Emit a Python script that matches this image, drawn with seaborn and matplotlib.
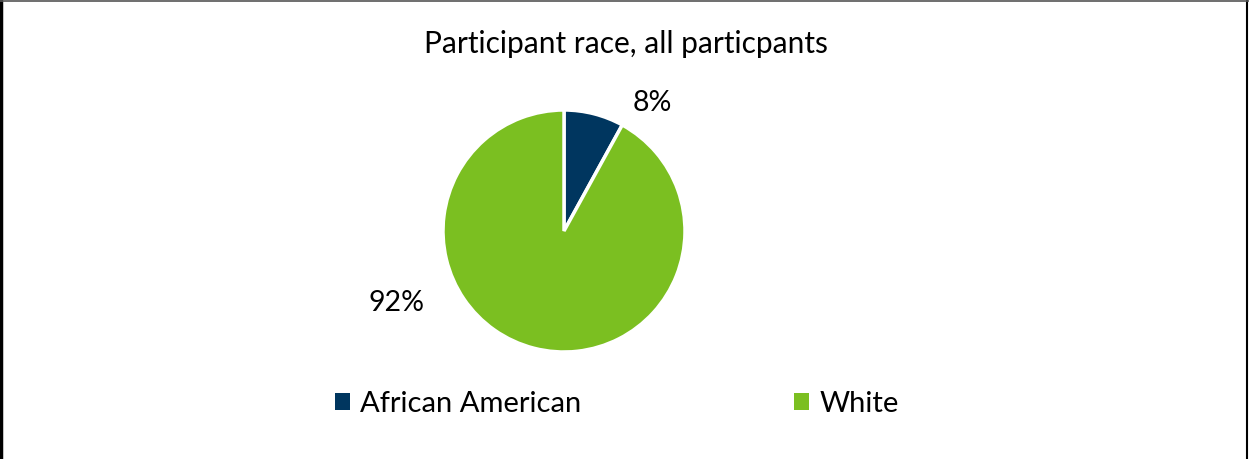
import matplotlib
matplotlib.use("Agg")
import matplotlib.pyplot as plt
import seaborn as sns
from matplotlib.patches import Patch
from matplotlib.lines import Line2D

# Participant race breakdown (percent of all participants)
categories = ["African American", "White"]
percentages = [8, 92]
title = "Participant race, all particpants"

sns.set_theme(style="white")
plt.rcParams["font.family"] = ["Lato", "DejaVu Sans"]
plt.rcParams["text.color"] = "black"

colors = ["#00365F", "#7BBF21"]

W, H = 1249, 459
fig = plt.figure(figsize=(W / 100, H / 100), dpi=100)
ax = fig.add_axes([0, 0, 1, 1])

cx, cy, r = 564, H - 231, 121
wedges, _ = ax.pie(
    percentages,
    colors=colors,
    startangle=90,
    counterclock=False,
    center=(cx, cy),
    radius=r,
    wedgeprops=dict(edgecolor="white", linewidth=2.5),
)
ax.set_xlim(0, W)
ax.set_ylim(0, H)
ax.set_aspect("equal")
ax.axis("off")

# percentage labels
label_pos = [(652, H - 103), (397, H - 303)]
for (x, y), p in zip(label_pos, percentages):
    ax.text(x, y, f"{p}%", ha="center", va="center", fontsize=20.5, color="black")

ax.text(625.5, H - 44, title, ha="center", va="center", fontsize=21.5, color="black")

handles = [Patch(facecolor=c, edgecolor="none") for c in colors]
leg = ax.legend(
    handles, categories,
    loc="center", bbox_to_anchor=(617 / W, (H - 404) / H),
    bbox_transform=fig.transFigure,
    ncol=2, frameon=False, fontsize=21,
    handlelength=0.5, handleheight=0.5, handletextpad=0.36,
    columnspacing=7.3, borderpad=0, borderaxespad=0,
)
for t in leg.get_texts():
    t.set_color("black")

# chart border
fig.add_artist(Line2D([0.001, 0.001], [0, 1], transform=fig.transFigure, color="black", lw=2.5))
fig.add_artist(Line2D([0.998, 0.998], [0, 1], transform=fig.transFigure, color="black", lw=1.5))
fig.add_artist(Line2D([0, 1], [0.997, 0.997], transform=fig.transFigure, color="#555555", lw=1.2))

fig.savefig("out.png", dpi=100, facecolor="white")
